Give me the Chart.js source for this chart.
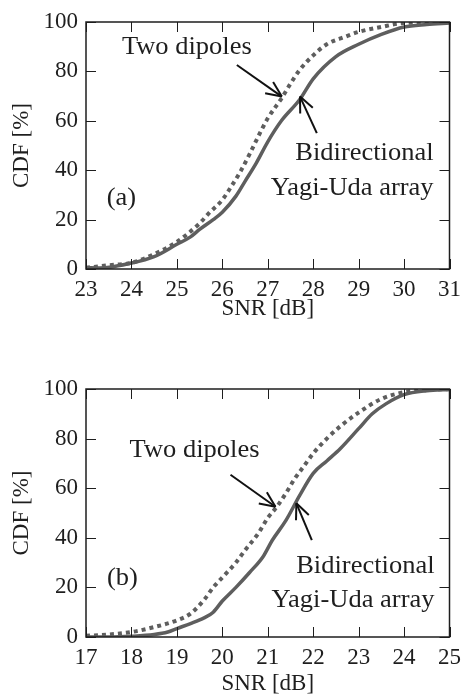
<!DOCTYPE html>
<html lang="en">
<head>
<meta charset="UTF-8">
<title>CDF of SNR</title>
<script src="https://cdn.jsdelivr.net/npm/chart.js@4.4.1/dist/chart.umd.min.js"></script>
<style>
    body { margin: 0; width: 468px; height: 695px; background: #fff; overflow: hidden; position: relative; }
    .box { position: absolute; left: 0; width: 468px; }
    #boxA { top: 0; height: 330px; }
    #boxB { top: 345px; height: 350px; }
</style>
</head>
<body>
<div class="box" id="boxA"><canvas id="chartA"></canvas></div>
<div class="box" id="boxB"><canvas id="chartB"></canvas></div>
<script>
// (a) SNR 23..31 dB
const snrYagiA = [23, 23.3, 24, 24.5, 25, 25.3, 25.5, 25.8, 26, 26.3, 26.5, 26.75, 27, 27.3, 27.7, 28, 28.5, 29, 29.5, 30, 30.5, 31];
const cdfYagiA = [0.5, 0.4, 2.4, 5, 10, 13, 16, 20, 23, 29.5, 35.5, 43, 51.5, 60, 68.5, 77, 86, 91, 95, 98, 99, 99.6];
const snrDipA = [23, 23.5, 24, 24.5, 25, 25.5, 25.7, 26, 26.2, 26.4, 26.6, 26.8, 27, 27.3, 27.5, 27.7, 28, 28.3, 28.7, 29, 29.5, 30, 31];
const cdfDipA = [0.5, 1.5, 2.5, 6, 11, 18.5, 22.5, 28, 33.5, 39.5, 46.5, 54, 61, 69, 75, 80.5, 86.5, 91, 94, 96, 98, 99.6, 100];

// (b) SNR 17..25 dB
const snrYagiB = [17, 17.5, 18, 18.5, 18.8, 19, 19.3, 19.6, 19.8, 20, 20.3, 20.6, 20.9, 21.1, 21.4, 21.7, 22, 22.3, 22.6, 23, 23.3, 23.6, 24, 24.5, 25];
const cdfYagiB = [0, 0, 0.3, 1, 2, 3.4, 5.4, 7.7, 10, 14.5, 20, 26, 32.5, 39, 47, 57, 66, 71, 76, 84, 90, 94, 97.7, 99.3, 99.8];
const snrDipB = [17, 17.5, 18, 18.5, 19, 19.3, 19.6, 19.8, 20, 20.3, 20.5, 20.8, 21, 21.2, 21.4, 21.6, 21.8, 22, 22.3, 22.6, 23, 23.5, 24, 24.5, 25];
const cdfDipB = [0.5, 1, 2, 4, 6.7, 9.4, 15, 20, 24, 30, 35, 42, 48, 52.5, 58, 64, 69, 74, 80, 85, 90.5, 96, 98.7, 99.6, 100];

const seriesNames = ['Two dipoles', 'Bidirectional Yagi-Uda array'];
const yTicks = [0, 20, 40, 60, 80, 100];

const FONT = '"Liberation Serif", "Times New Roman", serif';
const INK = '#1e1e1e';
const LINE = '#5e5e5e';

function pts(xs, ys) {
    return xs.map((x, i) => ({ x: x, y: ys[i] }));
}

function line(ctx, x1, y1, x2, y2) {
    ctx.beginPath();
    ctx.moveTo(x1, y1);
    ctx.lineTo(x2, y2);
    ctx.stroke();
}

// open V arrow, tip at (x2, y2)
function arrow(ctx, x1, y1, x2, y2) {
    line(ctx, x1, y1, x2, y2);
    const ang = Math.atan2(y2 - y1, x2 - x1);
    const len = 17, spread = 0.42;
    line(ctx, x2, y2, x2 - len * Math.cos(ang - spread), y2 - len * Math.sin(ang - spread));
    line(ctx, x2, y2, x2 - len * Math.cos(ang + spread), y2 - len * Math.sin(ang + spread));
}

// inward ticks on all sides, frame, labels and arrows
function framePlugin(notes) {
    return {
        id: 'frame',
        afterDraw(chart) {
            const { ctx, chartArea: a, scales: { x, y } } = chart;
            ctx.save();
            ctx.strokeStyle = INK;
            ctx.lineWidth = 1;
            x.ticks.forEach(t => {
                const px = Math.round(x.getPixelForValue(t.value)) + 0.5;
                line(ctx, px, a.bottom, px, a.bottom - 10);
                line(ctx, px, a.top, px, a.top + 10);
            });
            y.ticks.forEach(t => {
                const py = Math.round(y.getPixelForValue(t.value)) + 0.5;
                line(ctx, a.left, py, a.left + 10, py);
                line(ctx, a.right, py, a.right - 10, py);
            });
            ctx.lineWidth = 1.5;
            ctx.strokeRect(a.left, a.top, a.right - a.left, a.bottom - a.top);

            ctx.fillStyle = INK;
            ctx.font = '25px ' + FONT;
            ctx.textBaseline = 'middle';
            notes.texts.forEach(n => {
                ctx.save();
                ctx.translate(x.getPixelForValue(n.x), y.getPixelForValue(n.y));
                ctx.scale(1.06, 1); // the printed labels are a bit wide
                ctx.textAlign = n.align;
                ctx.fillText(n.text, 0, 0);
                ctx.restore();
            });
            ctx.strokeStyle = '#111';
            ctx.lineWidth = 2;
            notes.arrows.forEach(r => {
                arrow(ctx, x.getPixelForValue(r[0]), y.getPixelForValue(r[1]),
                      x.getPixelForValue(r[2]), y.getPixelForValue(r[3]));
            });
            ctx.restore();
        }
    };
}

function makeChart(id, xMin, xMax, dip, yagi, padTop, xHeight, titlePad, notes) {
    return new Chart(document.getElementById(id), {
        type: 'line',
        data: {
            datasets: [{
                label: seriesNames[0],
                data: dip,
                borderColor: LINE,
                borderWidth: 4,
                borderDash: [4, 4],
                borderCapStyle: 'butt',
                pointRadius: 0,
                cubicInterpolationMode: 'monotone'
            }, {
                label: seriesNames[1],
                data: yagi,
                borderColor: LINE,
                borderWidth: 3.5,
                pointRadius: 0,
                cubicInterpolationMode: 'monotone'
            }]
        },
        options: {
            responsive: true,
            maintainAspectRatio: false,
            animation: false,
            layout: { padding: { top: padTop, right: 16, left: 0, bottom: 0 } },
            plugins: { legend: { display: false }, tooltip: { enabled: false } },
            scales: {
                x: {
                    type: 'linear',
                    min: xMin,
                    max: xMax,
                    grid: { display: false, drawTicks: false },
                    border: { display: false },
                    ticks: { stepSize: 1, padding: 7, color: INK, font: { family: FONT, size: 23 } },
                    title: { display: true, text: 'SNR [dB]', color: INK,
                             font: { family: FONT, size: 23, lineHeight: 1 },
                             padding: { top: 0, bottom: titlePad } },
                    afterFit(s) { s.height = xHeight; }
                },
                y: {
                    min: 0,
                    max: 100,
                    afterBuildTicks(s) { s.ticks = yTicks.map(v => ({ value: v })); },
                    grid: { display: false, drawTicks: false },
                    border: { display: false },
                    ticks: { padding: 8, color: INK, font: { family: FONT, size: 23 } },
                    title: { display: true, text: 'CDF [%]', color: INK,
                             font: { family: FONT, size: 23, lineHeight: 1 },
                             padding: { top: 10, bottom: 0 } },
                    afterFit(s) { s.width = 86; }
                }
            }
        },
        plugins: [framePlugin(notes)]
    });
}

makeChart('chartA', 23, 31, pts(snrDipA, cdfDipA), pts(snrYagiA, cdfYagiA), 22, 61, 9.5, {
    texts: [
        { text: 'Two dipoles', x: 23.79, y: 89.5, align: 'left' },
        { text: 'Bidirectional', x: 30.65, y: 46.8, align: 'right' },
        { text: 'Yagi-Uda array', x: 30.65, y: 32.7, align: 'right' },
        { text: '(a)', x: 23.78, y: 28.6, align: 'center' }
    ],
    arrows: [[26.32, 82.6, 27.31, 69.8], [28.08, 55, 27.71, 69.8]]
});

makeChart('chartB', 17, 25, pts(snrDipB, cdfDipB), pts(snrYagiB, cdfYagiB), 44, 58, 0, {
    texts: [
        { text: 'Two dipoles', x: 17.96, y: 75.4, align: 'left' },
        { text: 'Bidirectional', x: 24.67, y: 28.3, align: 'right' },
        { text: 'Yagi-Uda array', x: 24.67, y: 14.8, align: 'right' },
        { text: '(b)', x: 17.8, y: 23.7, align: 'center' }
    ],
    arrows: [[20.18, 65.4, 21.17, 52.5], [21.97, 39.1, 21.63, 53.9]]
});
</script>
</body>
</html>
